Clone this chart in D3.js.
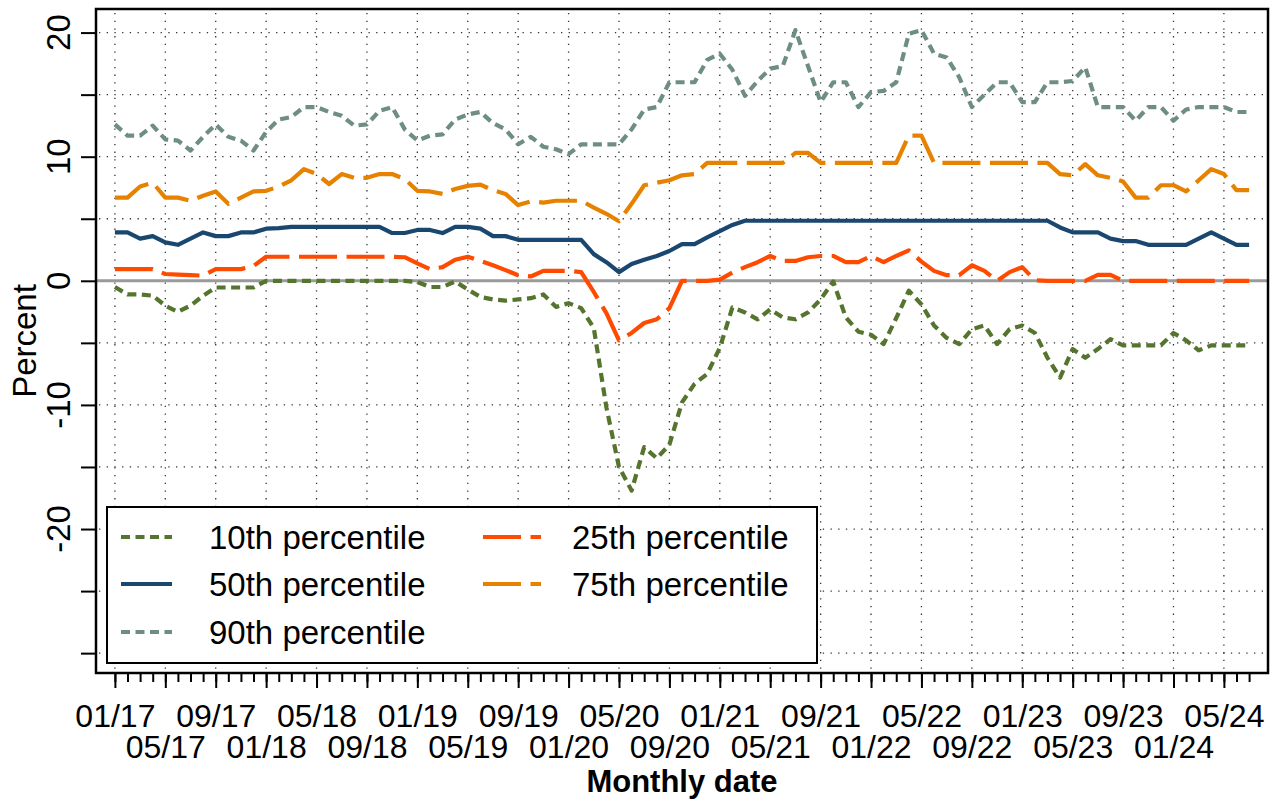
<!DOCTYPE html>
<html>
<head>
<meta charset="utf-8">
<script src="https://cdn.jsdelivr.net/npm/d3@7"></script>
<style>
html,body{margin:0;padding:0;background:#fff;}
svg{display:block;}
text{font-family:"Liberation Sans",Arial,Helvetica,sans-serif;fill:#000;}
</style>
</head>
<body>
<svg id="chart" width="1270" height="800"></svg>
<script>
// ---- data (monthly, 01/2017 .. 07/2024) ----
const xTickLabels = ["01/17","05/17","09/17","01/18","05/18","09/18","01/19","05/19","09/19","01/20","05/20","09/20","01/21","05/21","09/21","01/22","05/22","09/22","01/23","05/23","09/23","01/24","05/24"];
const yTickValues = [-30,-25,-20,-15,-10,-5,0,5,10,15,20];
const yLabelValues = [-20,-10,0,10,20];
const yTickLabels = ["-20","-10","0","10","20"];
const seriesNames = ["10th percentile","25th percentile","50th percentile","75th percentile","90th percentile"];

const p10 = [-0.5,-1.1,-1.1,-1.2,-2.0,-2.5,-2.0,-1.2,-0.54,-0.54,
  -0.54,-0.54,0,0,0,0,0,0,0,0,
  0,0,0,0,-0.1,-0.5,-0.5,-0.05,-0.7,-1.3,
  -1.5,-1.6,-1.5,-1.4,-1.1,-2.1,-1.8,-2.2,-3.8,-10.2,
  -15.0,-16.9,-13.4,-14.3,-13.2,-9.8,-8.3,-7.5,-5.4,-2.15,
  -2.55,-3.1,-2.3,-2.95,-3.1,-2.55,-1.5,-0.05,-2.95,-4.1,
  -4.35,-5.1,-3.0,-0.8,-1.9,-3.6,-4.6,-5.1,-3.9,-3.6,
  -5.1,-3.9,-3.6,-4.2,-6.2,-7.8,-5.5,-6.2,-5.5,-4.7,
  -5.2,-5.2,-5.2,-5.2,-4.2,-4.8,-5.6,-5.2,-5.2,-5.2,
  -5.2];
const p25 = [0.94,0.94,0.94,0.94,0.55,0.5,0.45,0.42,0.94,0.94,
  0.94,1.2,1.94,1.94,1.94,1.94,1.94,1.94,1.94,1.94,
  1.94,1.94,1.94,1.9,1.4,0.94,1.1,1.7,1.94,1.6,
  1.25,0.86,0.45,0.35,0.8,0.8,0.8,0.7,-0.9,-2.6,
  -4.8,-4.2,-3.4,-3.1,-2.2,0,0,0,0.1,0.67,
  1.1,1.5,2.0,1.6,1.6,1.9,2.0,2.0,1.5,1.5,
  2.0,1.5,2.0,2.45,1.55,0.8,0.45,0.45,1.25,0.8,
  0,0.7,1.1,0.05,0,0,0,0,0.48,0.48,
  0,0,0,0,0,0,0,0,0,0,
  0];
const p50 = [3.9,3.9,3.4,3.6,3.1,2.9,3.4,3.9,3.6,3.6,
  3.9,3.9,4.2,4.25,4.35,4.35,4.35,4.35,4.35,4.35,
  4.35,4.35,3.85,3.85,4.1,4.1,3.85,4.35,4.35,4.2,
  3.6,3.6,3.3,3.3,3.3,3.3,3.3,3.3,2.15,1.5,
  0.7,1.35,1.7,2.0,2.4,2.95,2.95,3.5,4.0,4.5,
  4.84,4.84,4.84,4.84,4.84,4.84,4.84,4.84,4.84,4.84,
  4.84,4.84,4.84,4.84,4.84,4.84,4.84,4.84,4.84,4.84,
  4.84,4.84,4.84,4.84,4.84,4.3,3.9,3.9,3.9,3.4,
  3.2,3.2,2.9,2.9,2.9,2.9,3.4,3.9,3.4,2.9,
  2.9];
const p75 = [6.7,6.7,7.6,7.9,6.7,6.7,6.45,6.85,7.2,6.2,
  6.7,7.2,7.25,7.6,8.1,9.0,8.6,7.8,8.6,8.3,
  8.3,8.6,8.6,8.2,7.25,7.2,7.0,7.4,7.65,7.75,
  7.3,7.0,6.1,6.4,6.3,6.45,6.45,6.45,5.9,5.4,
  4.8,6.2,7.7,7.9,8.1,8.5,8.6,9.5,9.5,9.5,
  9.5,9.5,9.5,9.5,10.3,10.3,9.5,9.5,9.5,9.5,
  9.5,9.5,9.5,11.7,11.7,9.5,9.5,9.5,9.5,9.5,
  9.5,9.5,9.5,9.5,9.5,8.6,8.5,9.4,8.5,8.3,
  8.0,6.7,6.7,7.7,7.7,7.2,8.1,9.0,8.6,7.3,
  7.3];
const p90 = [12.6,11.7,11.7,12.5,11.4,11.3,10.5,11.6,12.6,11.6,
  11.3,10.5,12.0,13.0,13.2,14.0,14.0,13.6,13.3,12.5,
  12.6,13.7,14.0,12.2,11.3,11.7,11.8,13.0,13.4,13.6,
  12.7,12.2,11.0,11.6,10.8,10.6,10.2,11.0,11.0,11.0,
  11.0,12.2,13.8,14.0,16.0,16.0,16.0,17.8,18.3,17.0,
  14.9,16.1,17.1,17.3,20.2,17.3,14.4,16.0,16.0,14.0,
  15.2,15.3,16.0,19.9,20.2,18.3,18.0,16.4,14.0,15.0,
  16.0,16.0,14.4,14.4,16.0,16.0,16.1,17.2,14.0,14.0,
  14.0,12.9,14.0,14.0,12.9,13.8,14.0,14.0,14.0,13.6,
  13.6];

// ---- styles ----
const styles = [
  {data:p10, color:"#55752f", dash:"9 5.5"},
  {data:p25, color:"#ff4b00", dash:"38 9.5"},
  {data:p50, color:"#1a476f", dash:null},
  {data:p75, color:"#e68200", dash:"38 9.5"},
  {data:p90, color:"#6e8e84", dash:"9 5.5"}
];

const svg = d3.select("#chart");
svg.append("rect").attr("width",1270).attr("height",800).attr("fill","#fff");

const L=96, T=9, R=1268, B=673;
const x = d3.scaleLinear().domain([-1.5, 91.5]).range([L, R]);
const y = d3.scaleLinear().domain([-31.6, 21.9]).range([B, T]);

const monthIdx = p10.map((_, i) => i);
const majorIdx = xTickLabels.map((_, k) => k * 4);

// grid
const grid = svg.append("g").attr("stroke","#333").attr("stroke-width",1.3).attr("stroke-dasharray","1.3 6.4");
grid.selectAll(".hg").data(yTickValues).join("line")
  .attr("x1", L+3).attr("x2", R).attr("y1", d=>y(d)).attr("y2", d=>y(d));
grid.selectAll(".vg").data(majorIdx).join("line")
  .attr("x1", d=>x(d)).attr("x2", d=>x(d)).attr("y1", T+4).attr("y2", B);

// zero line
svg.append("line").attr("x1",L).attr("x2",R).attr("y1",y(0)).attr("y2",y(0))
  .attr("stroke","#9a9a9a").attr("stroke-width",3);

// lines
const line = d3.line().x((d,i)=>x(i)).y(d=>y(d));
styles.forEach(s => {
  svg.append("path").datum(s.data).attr("d", line)
    .attr("fill","none").attr("stroke", s.color).attr("stroke-width",4.2)
    .attr("stroke-linejoin","round")
    .attr("stroke-dasharray", s.dash);
});

// axes
const gxMinor = svg.append("g").attr("transform",`translate(0,${B})`)
  .call(d3.axisBottom(x).tickValues(monthIdx).tickSize(9).tickFormat(""));
const gxMajor = svg.append("g").attr("transform",`translate(0,${B})`)
  .call(d3.axisBottom(x).tickValues(majorIdx).tickSize(15).tickFormat((d,k)=>xTickLabels[k]));
[gxMinor, gxMajor].forEach(g => {
  g.select(".domain").remove();
  g.selectAll(".tick line").attr("stroke","#000").attr("stroke-width",2);
});
gxMajor.selectAll(".tick text")
  .attr("font-size",32).attr("font-family","Liberation Sans, Arial, sans-serif").attr("fill","#000")
  .attr("dy",0)
  .attr("y",(d,k)=> k % 2 === 0 ? 54 : 85);

const gy = svg.append("g").attr("transform",`translate(${L},0)`)
  .call(d3.axisLeft(y).tickValues(yTickValues).tickSize(15).tickFormat(""));
gy.select(".domain").remove();
gy.selectAll(".tick line").attr("stroke","#000").attr("stroke-width",2);

svg.append("g").selectAll("text").data(yLabelValues).join("text")
  .attr("transform", d=>`translate(70,${y(d)}) rotate(-90)`)
  .attr("text-anchor","middle").attr("font-size",33)
  .text((d,i)=>yTickLabels[i]);

// titles
svg.append("text").attr("transform",`translate(36,${(T+B)/2}) rotate(-90)`)
  .attr("text-anchor","middle").attr("font-size",33).text("Percent");
svg.append("text").attr("x",(L+R)/2).attr("y",792)
  .attr("text-anchor","middle").attr("font-size",31).attr("font-weight","bold").text("Monthly date");

// frame
svg.append("rect").attr("x",L).attr("y",T).attr("width",R-L).attr("height",B-T)
  .attr("fill","none").attr("stroke","#000").attr("stroke-width",2.5);

// legend
const lg = svg.append("g");
lg.append("rect").attr("x",107).attr("y",507).attr("width",710).attr("height",156)
  .attr("fill","#fff").attr("stroke","#000").attr("stroke-width",2);
const legendPos = [
  {col:0,row:0},{col:1,row:0},{col:0,row:1},{col:1,row:1},{col:0,row:2}
];
const colSample = [[121,172],[483,541]];
const colText = [209,572];
const rowY = [537,584,632];
styles.forEach((s,i) => {
  const p = legendPos[i];
  const yy = rowY[p.row];
  lg.append("line").attr("x1",colSample[p.col][0]).attr("x2",colSample[p.col][1])
    .attr("y1",yy).attr("y2",yy).attr("stroke",s.color).attr("stroke-width",4.2)
    .attr("stroke-dasharray", s.dash);
  lg.append("text").attr("x",colText[p.col]).attr("y",yy+12).attr("font-size",33).text(seriesNames[i]);
});
</script>
</body>
</html>
